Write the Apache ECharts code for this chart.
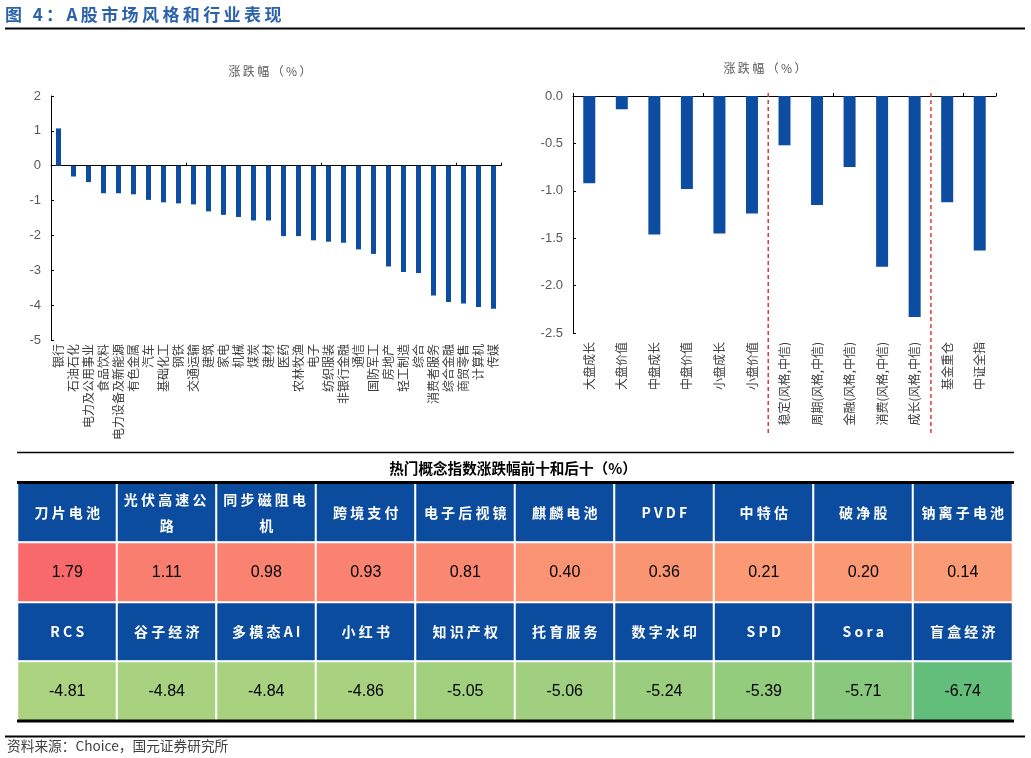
<!DOCTYPE html>
<html>
<head>
<meta charset="utf-8">
<script src="https://cdn.jsdelivr.net/npm/echarts@6/dist/echarts.min.js"></script>
<style>
html,body{margin:0;padding:0;background:#fff;}
#c{width:1031px;height:758px;}
</style>
</head>
<body>
<div id="c"></div>
<script>
// ---- data ----
const industryNames = ['银行','石油石化','电力及公用事业','食品饮料','电力设备及新能源','有色金属','汽车','基础化工','钢铁','交通运输','建筑','家电','机械','煤炭','建材','医药','农林牧渔','电子','纺织服装','非银行金融','通信','国防军工','房地产','轻工制造','综合','消费者服务','综合金融','商贸零售','计算机','传媒'];
const industryValues = [1.07,-0.31,-0.47,-0.79,-0.79,-0.82,-0.98,-1.05,-1.08,-1.11,-1.31,-1.41,-1.47,-1.57,-1.57,-2.02,-2.02,-2.14,-2.18,-2.21,-2.40,-2.53,-2.89,-3.05,-3.08,-3.72,-3.91,-3.95,-4.05,-4.10];
const leftTicks = {min: -5, max: 2, interval: 1};

const styleNames = ['大盘成长','大盘价值','中盘成长','中盘价值','小盘成长','小盘价值','稳定(风格,中信)','周期(风格,中信)','金融(风格,中信)','消费(风格,中信)','成长(风格,中信)','基金重仓','中证全指'];
const styleValues = [-0.92,-0.14,-1.46,-0.98,-1.45,-1.24,-0.52,-1.15,-0.75,-1.80,-2.33,-1.12,-1.63];
const rightTicks = {min: -2.5, max: 0, interval: 0.5};
const separatorsAfter = [5, 10];

const topNames = ['刀片电池','光伏高速公路','同步磁阻电机','跨境支付','电子后视镜','麒麟电池','PVDF','中特估','破净股','钠离子电池'];
const topValues = [1.79,1.11,0.98,0.93,0.81,0.40,0.36,0.21,0.20,0.14];
const bottomNames = ['RCS','谷子经济','多模态AI','小红书','知识产权','托育服务','数字水印','SPD','Sora','盲盒经济'];
const bottomValues = [-4.81,-4.84,-4.84,-4.86,-5.05,-5.06,-5.24,-5.39,-5.71,-6.74];

// ---- chart ----
const chart = echarts.init(document.getElementById('c'), null, {renderer: 'canvas'});
const FONT = '"Liberation Sans","Noto Sans CJK SC",Arial,sans-serif';
const CJK = '"Noto Sans CJK SC","Liberation Sans",sans-serif';
const BLUE = '#0C4DA2';
const HEAD = '#0C4C9F';
const spaced = s => s.split('').join('\u2009');

function catLabelAxis(grid, data, margin) {
  return {
    type: 'category', gridIndex: grid, data: data, position: 'bottom',
    axisLine: {show: false, onZero: false}, axisTick: {show: false},
    axisLabel: {rotate: 90, interval: 0, margin: margin, fontSize: 12, color: '#404040', fontFamily: CJK},
    splitLine: {show: false}
  };
}
function zeroLineAxis(grid, data) {
  return {
    type: 'category', gridIndex: grid, data: data, position: 'bottom',
    axisLine: {show: true, onZero: true, lineStyle: {color: '#000', width: 1}},
    axisTick: {show: true, inside: true, length: 3, lineStyle: {color: '#000'}},
    axisLabel: {show: false}, splitLine: {show: false}
  };
}
function valueAxis(grid, t, fmt) {
  return {
    type: 'value', gridIndex: grid, min: t.min, max: t.max, interval: t.interval,
    axisLine: {show: true, onZero: false, lineStyle: {color: '#000', width: 1}},
    axisTick: {show: true, inside: true, length: 3, lineStyle: {color: '#000'}},
    axisLabel: {fontSize: 13, color: '#595959', fontFamily: FONT, margin: 10, formatter: fmt},
    splitLine: {show: false}
  };
}

const headerData = [];
const valueData = [];
topNames.forEach((n, i) => headerData.push({name: n, value: [i, 0, 0]}));
bottomNames.forEach((n, i) => headerData.push({name: n, value: [i, 2, 0]}));
topValues.forEach((v, i) => valueData.push({value: [i, 1, v]}));
bottomValues.forEach((v, i) => valueData.push({value: [i, 3, v]}));

const option = {
  animation: false,
  backgroundColor: '#fff',
  grid: [
    {left: 51, top: 96, width: 450, bottom: 418, outerBoundsMode: 'none'},
    {left: 573, top: 96, width: 423, bottom: 425, outerBoundsMode: 'none'},
    {left: 17.5, top: 483, width: 995, height: 238, outerBoundsMode: 'none'}
  ],
  xAxis: [
    catLabelAxis(0, industryNames, 4),
    zeroLineAxis(0, industryNames),
    catLabelAxis(1, styleNames, 9),
    zeroLineAxis(1, styleNames),
    {type: 'category', gridIndex: 2, data: topNames.map((_, i) => i), show: false}
  ],
  yAxis: [
    valueAxis(0, leftTicks, v => String(v)),
    valueAxis(1, rightTicks, v => v.toFixed(1)),
    {type: 'category', gridIndex: 2, data: [0, 1, 2, 3], inverse: true, show: false}
  ],
  visualMap: [{
    type: 'continuous', show: false, seriesIndex: 3, dimension: 2,
    min: Math.min(...bottomValues), max: Math.max(...topValues),
    inRange: {color: ['#63BE7B', '#FFEB84', '#F8696B']}
  }],
  series: [
    {type: 'bar', xAxisIndex: 0, yAxisIndex: 0, data: industryValues, barWidth: 5,
     itemStyle: {color: BLUE}},
    {type: 'bar', xAxisIndex: 2, yAxisIndex: 1, data: styleValues, barWidth: 12,
     itemStyle: {color: BLUE}},
    {type: 'heatmap', xAxisIndex: 4, yAxisIndex: 2, data: headerData,
     itemStyle: {color: HEAD, borderColor: '#fff', borderWidth: 2},
     label: {show: true, color: '#fff', fontSize: 14, fontWeight: 'bold', fontFamily: CJK,
             width: 92, overflow: 'break', lineHeight: 26, align: 'center',
             formatter: p => p.name.split('').join(' ')},
     emphasis: {disabled: true}},
    {type: 'heatmap', xAxisIndex: 4, yAxisIndex: 2, data: valueData,
     itemStyle: {borderColor: '#fff', borderWidth: 2},
     label: {show: true, color: '#000', fontSize: 16, fontFamily: FONT,
             formatter: p => p.value[2].toFixed(2)},
     emphasis: {disabled: true}}
  ]
};
chart.setOption(option);

// separators in the right chart, placed via the axis scale
const y0 = chart.convertToPixel({yAxisIndex: 1}, rightTicks.max);
const yMin = chart.convertToPixel({yAxisIndex: 1}, rightTicks.min);
const sepLines = separatorsAfter.map((k, j) => {
  const xa = chart.convertToPixel({xAxisIndex: 3}, k);
  const xb = chart.convertToPixel({xAxisIndex: 3}, k + 1);
  const x = (xa + xb) / 2;
  return {type: 'line', id: 'sep' + j, z: 10,
    shape: {x1: x, y1: y0 - 3, x2: x, y2: yMin + 100},
    style: {stroke: '#E0393B', lineWidth: 1.5, lineDash: [4, 3]}};
});

const rule = (id, x1, x2, y, w) => ({type: 'line', id: id, z: 20,
  shape: {x1: x1, y1: y, x2: x2, y2: y}, style: {stroke: '#000', lineWidth: w}});
const txt = (id, x, y, s, opts) => ({type: 'text', id: id, x: x, y: y, z: 20,
  style: Object.assign({text: s, fill: '#595959', font: '12px ' + CJK, textAlign: 'center', textVerticalAlign: 'middle'}, opts || {})});

chart.setOption({
  graphic: [
    txt('title', 5, 15, spaced('图 4：A股市场风格和行业表现'), {fill: '#2B62AC', font: 'bold 17px ' + CJK, textAlign: 'left'}),
    rule('r0', 5, 1025, 28.5, 2),
    txt('lt', 270, 71, spaced('涨跌幅（%）')),
    txt('rt', 765, 68, spaced('涨跌幅（%）')),
    rule('r1', 17, 1014, 452.5, 1.5),
    txt('tt', 513, 468, '热门概念指数涨跌幅前十和后十（%）', {fill: '#000', font: 'bold 14.6px ' + CJK}),
    rule('r2', 17, 1014, 482.5, 3),
    rule('r3', 17, 1014, 721, 3),
    rule('r4', 5, 1025, 736.5, 2),
    txt('src', 7, 746, '资料来源：Choice，国元证券研究所', {fill: '#404040', font: '13.7px ' + CJK, textAlign: 'left'})
  ].concat(sepLines)
});
</script>
</body>
</html>
